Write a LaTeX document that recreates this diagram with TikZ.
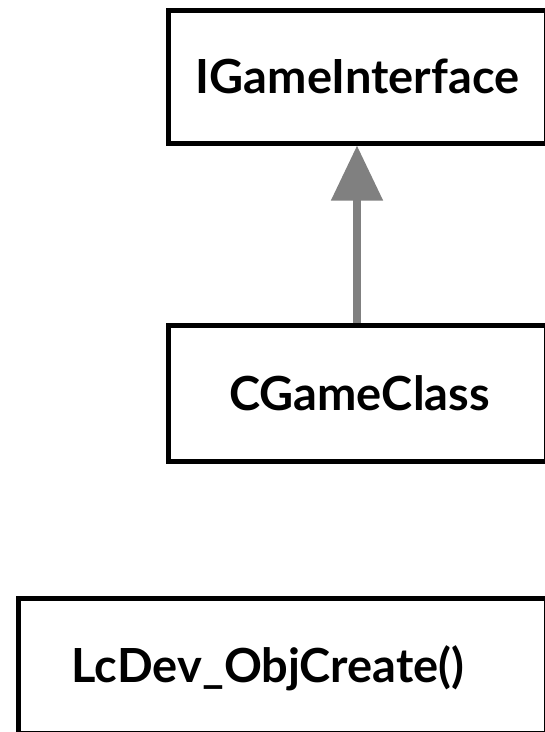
\documentclass[tikz,border=0pt]{standalone}
\usepackage{fontspec}
\setmainfont{Lato}
\usetikzlibrary{arrows.meta}
\begin{document}
\begin{tikzpicture}[x=1pt,y=1pt,
  box/.style={draw=black,line width=5pt,fill=white,inner sep=0pt},
  lbl/.style={font=\fontsize{47}{53}\selectfont\bfseries,inner sep=0pt},
  inherit/.style={draw=gray,line width=8pt,-{Triangle[length=55pt,width=50pt,fill=gray]}}]
\useasboundingbox (0,0) rectangle (545,-732);
\clip (0,0) rectangle (545,-732);
\node[box,minimum width=378pt,minimum height=133pt] (iface) at (357,-76.5) {};
\node[lbl] (ifacet) at (357.5,-76.5) {IGameInterface};
\node[box,minimum width=378pt,minimum height=136pt] (cgame) at (357,-393.5) {};
\node[lbl] (cgamet) at (359.5,-393.5) {CGameClass};
\node[box,minimum width=528pt,minimum height=135pt] (lcdev) at (282,-665.5) {};
\node[lbl] (lcdevt) at (268,-668) {LcDev\_ObjCreate()};
\draw[inherit] (cgame.north) -- (iface.south);
\end{tikzpicture}
\end{document}
